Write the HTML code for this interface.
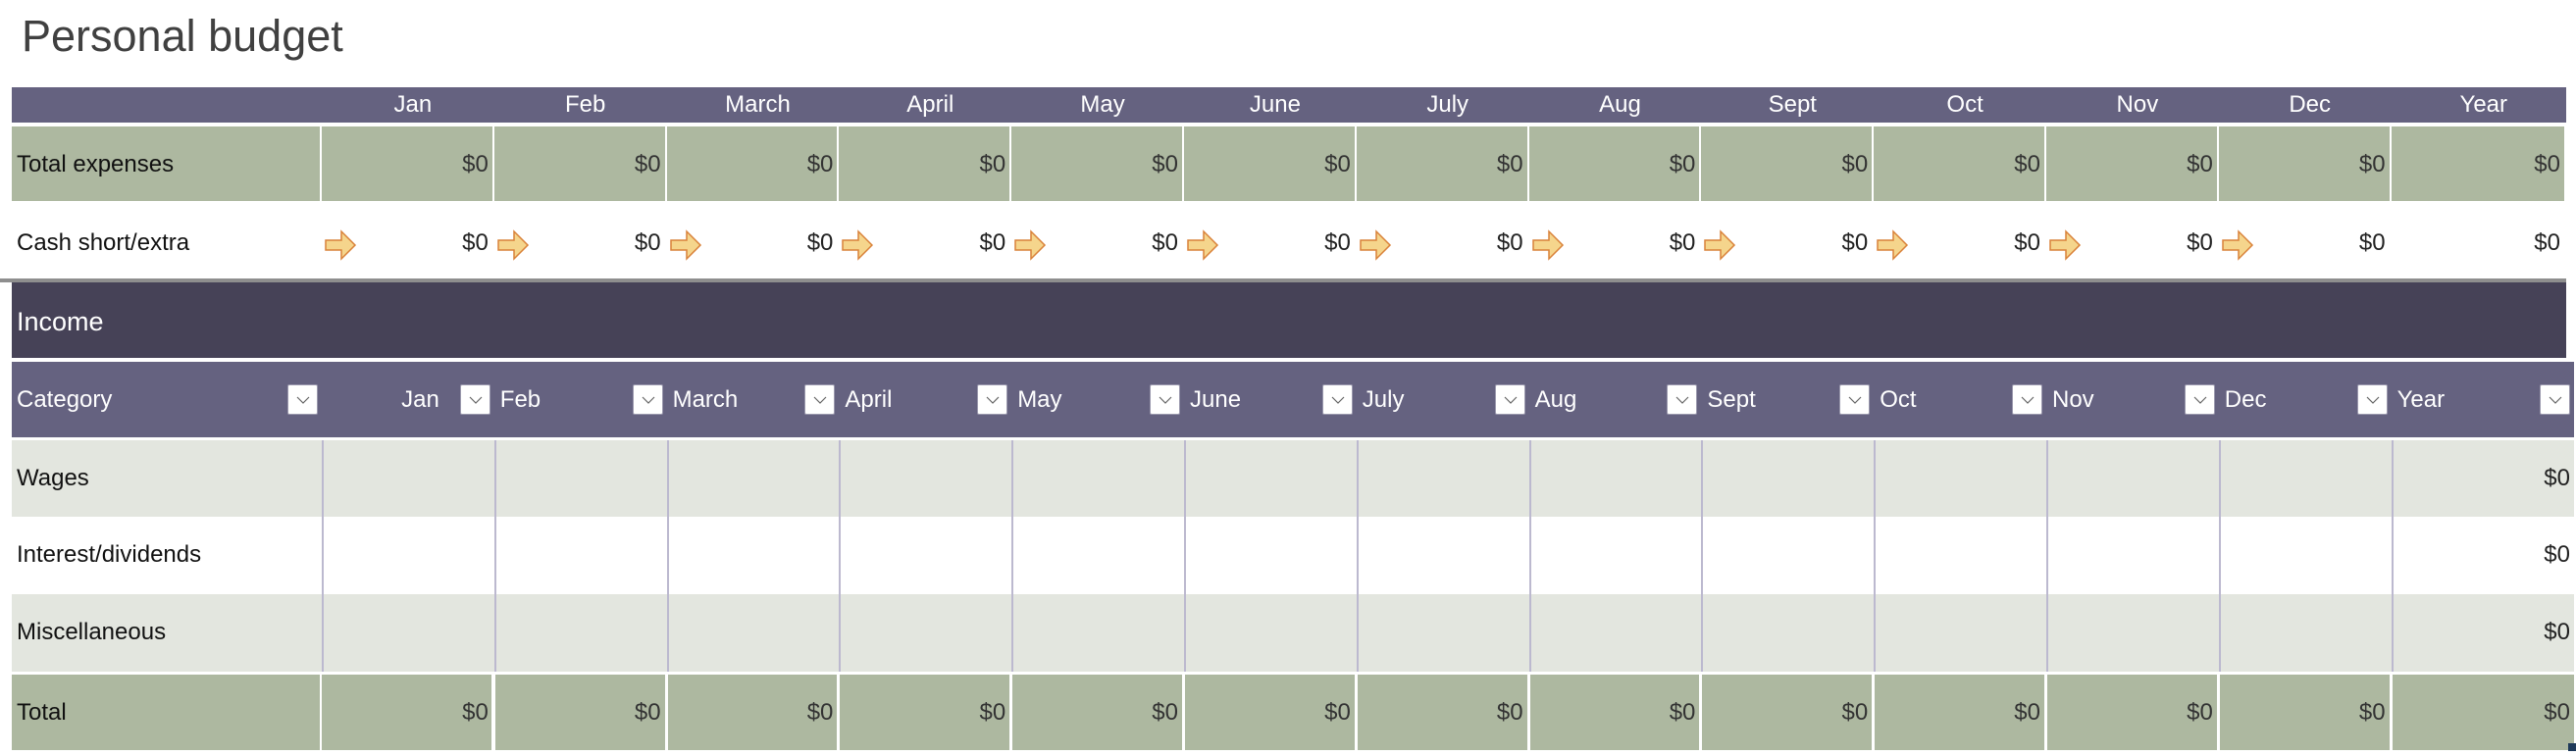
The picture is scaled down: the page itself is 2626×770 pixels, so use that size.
<!DOCTYPE html>
<html><head><meta charset="utf-8">
<style>
body{margin:0;width:2626px;height:770px;background:#fff;position:relative;overflow:hidden;font-family:"Liberation Sans",sans-serif;}
.a{position:absolute;box-sizing:border-box;}
.t{position:absolute;white-space:nowrap;font-size:24px;line-height:24px;}
#title{position:absolute;left:22px;top:12px;font-size:45px;line-height:50px;color:#404040;white-space:nowrap;}
.dd{position:absolute;width:31px;height:31px;background:#fff;border:1px solid #9a98ad;border-radius:2px;box-sizing:border-box;}
.dd svg{position:absolute;left:8px;top:10px;}
</style></head><body>
<div id="title">Personal budget</div>
<div id="root"></div>
<script>
const months=["Jan","Feb","March","April","May","June","July","Aug","Sept","Oct","Nov","Dec","Year"];
const totalExpenses=[0,0,0,0,0,0,0,0,0,0,0,0,0];
const cashShort=[0,0,0,0,0,0,0,0,0,0,0,0,0];
const incomeCats=["Wages","Interest/dividends","Miscellaneous"];
const wages=[null,null,null,null,null,null,null,null,null,null,null,null,0];
const interest=[null,null,null,null,null,null,null,null,null,null,null,null,0];
const misc=[null,null,null,null,null,null,null,null,null,null,null,null,0];
const incomeTotal=[0,0,0,0,0,0,0,0,0,0,0,0,0];
const root=document.getElementById('root');
const L=12,C0=328,CW=175.8,R=2616;
function cx(i){return C0+i*CW;}
function cEnd(i){return i==12?R:cx(i+1);}
function box(x,y,w,h,bg,name){const d=document.createElement('div');d.className='a';d.style.cssText+=`left:${x}px;top:${y}px;width:${w}px;height:${h}px;background:${bg}`;


root.appendChild(d);return d;}
function txt(s,x,y,color,name,align,w){const d=document.createElement('div');d.className='t';d.textContent=s;d.style.color=color;d.style.top=(y-12)+'px';
if(align=='right'){d.style.right=(2626-x)+'px';}else if(align=='center'){d.style.left=x+'px';d.style.width=w+'px';d.style.textAlign='center';}else d.style.left=x+'px';


root.appendChild(d);return d;}
function fmt(v){return '$'+v;}
box(L,89,R-L,36,'#656280','summary-header');
months.forEach((m,i)=>{txt(m,cx(i)+10,107,'#fff','summary-month-'+m.toLowerCase(),'center',cEnd(i)-cx(i)-10);});
box(L,129,C0-L-2,76,'#adb8a0','total-expenses-label-cell');
txt('Total expenses',17,168,'#111','total-expenses-label');
totalExpenses.forEach((v,i)=>{box(cx(i),129,cEnd(i)-cx(i)-2,76,'#adb8a0','total-expenses-cell-'+i);txt(fmt(v),cEnd(i)-6,168,'#333','total-expenses-value-'+i,'right');});
txt('Cash short/extra',17,248,'#111','cash-short-label');
cashShort.forEach((v,i)=>{
 if(i<12){const s=document.createElementNS('http://www.w3.org/2000/svg','svg');s.setAttribute('width','34');s.setAttribute('height','32');s.style.cssText=`position:absolute;left:${cx(i)+3}px;top:234px`;
 s.innerHTML='<path d="M1 11 H17 V2 L31 16 L17 30 V21 H1 Z" fill="#f5d58c" stroke="#d9823a" stroke-width="1.5"/>';
 
 
 root.appendChild(s);}
 txt(fmt(v),cEnd(i)-6,248,'#222','cash-short-value-'+i,'right');});
box(0,284,R,4,'#8e8e8e','section-divider');
box(L,288,R-L,77,'#464257','income-section-bar');
const it=txt('Income',17,328,'#fff','income-title');it.style.fontSize='27px';
box(L,369,R+8-L,77,'#656280','income-table-header');
function dd(x,name){const d=document.createElement('div');d.className='dd';d.style.left=x+'px';d.style.top='392px';
d.innerHTML='<svg width="14" height="10"><path d="M1 2 L7 8 L13 2" fill="none" stroke="#666" stroke-width="1.2"/></svg>';


root.appendChild(d);}
txt('Category',17,408,'#fff','category-header');dd(C0-35,'category-filter-button');
months.forEach((m,i)=>{
 if(i==0) txt(m,cEnd(0)-56,408,'#fff','income-header-jan','right');
 else txt(m,cx(i)+6,408,'#fff','income-header-'+m.toLowerCase());
 dd(cEnd(i)-35+(i==12?8:0),'filter-button-'+m.toLowerCase());});
const rows=[wages,interest,misc];
const rowY=[449,527,606];
rows.forEach((arr,r)=>{
 const y=rowY[r],h=79,bg=r%2==0?'#e3e6df':'#ffffff';
 box(L,y,R+8-L,h,bg,'income-row-'+incomeCats[r].toLowerCase().replace('/','-'));
 txt(incomeCats[r],17,y+39,'#111','income-label-'+r);
 arr.forEach((v,i)=>{box(cx(i),y,2,h,'#bcb9cf','column-divider-'+r+'-'+i);
  if(v!==null) txt(fmt(v),R+4,y+39,'#222','income-value-'+r+'-'+i,'right');});
});
box(L,688,C0-L-2,77,'#adb8a0','income-total-label-cell');
txt('Total',17,727,'#111','income-total-label');
incomeTotal.forEach((v,i)=>{const e=i==12?R+8:cEnd(i)-2;box(cx(i)+(i==0?0:1),688,e-cx(i)-1,77,'#adb8a0','income-total-cell-'+i);txt(fmt(v),(i==12?R+4:cEnd(i)-6),727,'#333','income-total-value-'+i,'right');});
box(R+2,758,8,8,'#1f3a5a','resize-handle');
</script>
</body></html>
